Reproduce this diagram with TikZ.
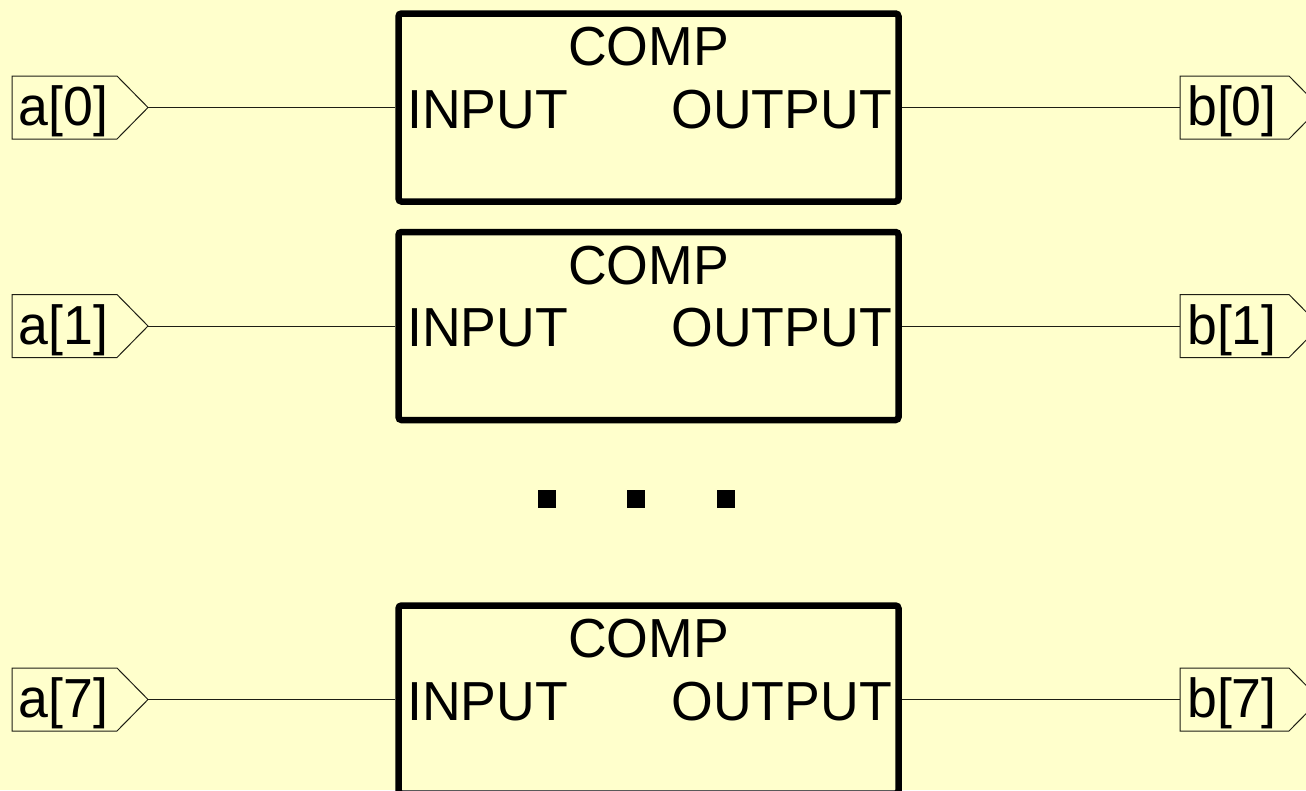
\documentclass[tikz,border=0pt]{standalone}
\usepackage{fontspec}
\setmainfont{Liberation Sans}[FakeStretch=0.975]
\definecolor{bgyellow}{RGB}{255,255,204}
\definecolor{wirecol}{RGB}{30,30,20}
\begin{document}
\begin{tikzpicture}[x=1pt,y=-1pt,
  comp/.style={draw=black, line width=6.5pt, rounded corners=3pt, minimum width=500pt, minimum height=188pt, inner sep=0pt},
  wire/.style={draw=wirecol, line width=1pt},
  port/.style={draw=wirecol, line width=1pt},
  txt/.style={inner sep=0pt, font=\fontsize{55}{66}\selectfont},
  dotsq/.style={fill=black}
]
\fill[bgyellow] (0,0) rectangle (1306,790);
\useasboundingbox (0,0) rectangle (1306,790);
\clip (0,0) rectangle (1306,790);

\foreach \i/\lab/\y in {0/0/107.5, 1/1/326, 7/7/699.5}{
  % component box
  \node[comp] (c\i) at (648.5,\y) {};
  \node[txt, anchor=base] (comp\i) at (648.5,\y-42) {COMP};
  \node[txt, anchor=base west] (in\i) at (407,\y+20.5) {INPUT};
  \node[txt, anchor=base east] (out\i) at (892,\y+20.5) {OUTPUT};
  % input port
  \draw[port] (12,\y-31.5) -- (117,\y-31.5) -- (148,\y) -- (117,\y+31.5) -- (12,\y+31.5) -- cycle;
  \coordinate (a\i) at (148,\y);
  \node[txt, anchor=base west] (al\i) at (18.5,\y+18) {a[\lab]};
  % output port
  \draw[port] (1180,\y-31.5) -- (1289,\y-31.5) -- (1320,\y) -- (1289,\y+31.5) -- (1180,\y+31.5) -- cycle;
  \coordinate (b\i) at (1180,\y);
  \node[txt, anchor=base west] (bl\i) at (1187,\y+18) {b[\lab]};
  % wires
  \draw[wire] (a\i) -- (c\i.west);
  \draw[wire] (c\i.east) -- (b\i);
}

\fill[dotsq] (538,490) rectangle (556,508);
\fill[dotsq] (627,490) rectangle (645,508);
\fill[dotsq] (717,490) rectangle (735,508);
\end{tikzpicture}
\end{document}
